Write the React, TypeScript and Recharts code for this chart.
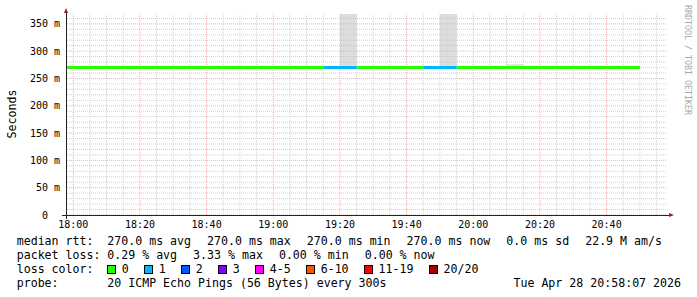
import React from "react";
import { ComposedChart, Line, Area, XAxis, YAxis, CartesianGrid } from "recharts";

// 5 minute steps; the first starts left of the visible window, the last is only an end point
const sampleTimes = [
  "17:55", "18:00", "18:05", "18:10", "18:15", "18:20", "18:25", "18:30", "18:35",
  "18:40", "18:45", "18:50", "18:55", "19:00", "19:05", "19:10", "19:15", "19:20",
  "19:25", "19:30", "19:35", "19:40", "19:45", "19:50", "19:55", "20:00", "20:05",
  "20:10", "20:15", "20:20", "20:25", "20:30", "20:35", "20:40", "20:45", "20:50",
];

// median rtt in ms for each step (one less than sampleTimes)
const medianRtt = [
  270, 270, 270, 270, 270, 270, 270, 270, 270, 270, 270, 270,
  270, 270, 270, 270, 270, 270, 270, 270, 270, 270, 270, 270,
  270, 270, 270, 270, 270, 270, 270, 270, 270, 270, 270,
];

// lost pings out of 20 for each step
const lossCount = [
  0, 0, 0, 0, 0, 0, 0, 0, 0, 0, 0, 0,
  0, 0, 0, 0, 1, 1, 0, 0, 0, 0, 1, 1,
  0, 0, 0, 0, 0, 0, 0, 0, 0, 0, 0,
];

// smoke (spread of the single pings)
const smokeTimes = ["19:20", "19:50", "20:10"];
const smokeLow = [270, 270, 270];
const smokeHigh = [368, 368, 276];

const lossBands = [
  { label: "0", min: 0, max: 0, color: "#26ff00" },
  { label: "1", min: 1, max: 1, color: "#00b8ff" },
  { label: "2", min: 2, max: 2, color: "#0059ff" },
  { label: "3", min: 3, max: 3, color: "#7e00ff" },
  { label: "4-5", min: 4, max: 5, color: "#ff00ff" },
  { label: "6-10", min: 6, max: 10, color: "#ff5500" },
  { label: "11-19", min: 11, max: 19, color: "#ff0000" },
  { label: "20/20", min: 20, max: 20, color: "#a10000" },
];

const xTickLabels = ["18:00", "18:20", "18:40", "19:00", "19:20", "19:40", "20:00", "20:20", "20:40"];
const yTicks = [0, 50, 100, 150, 200, 250, 300, 350];
const viewStart = "17:58:07";
const viewEnd = "20:58:07";
const yMax = 368;

const rttStats = ["270.0 ms avg", "270.0 ms max", "270.0 ms min", "270.0 ms now", "0.0 ms sd", "22.9 M am/s"];
const lossStats = ["0.29 % avg", "3.33 % max", "0.00 % min", "0.00 % now"];
const probeText = "20 ICMP Echo Pings (56 Bytes) every 300s";
const dateText = "Tue Apr 28 20:58:07 2026";

const toMin = (s: string) => {
  const [h, m, sec] = s.split(":").map(Number);
  return h * 60 + m + (sec || 0) / 60;
};
const pad = (n: number) => String(n).padStart(2, "0");
const fmtTime = (v: number) => `${pad(Math.floor(v / 60))}:${pad(Math.round(v % 60))}`;
const bandOf = (n: number) => lossBands.findIndex((b) => n >= b.min && n <= b.max);

const rows = sampleTimes.map((time, i) => {
  const row: Record<string, any> = { t: toMin(time) };
  const hasCur = i < medianRtt.length;
  lossBands.forEach((b, k) => {
    const here = hasCur && bandOf(lossCount[i]) === k;
    const before = i > 0 && bandOf(lossCount[i - 1]) === k;
    row["l" + k] = here ? medianRtt[i] : before ? medianRtt[i - 1] : null;
  });
  const s = smokeTimes.indexOf(time);
  const sp = i > 0 ? smokeTimes.indexOf(sampleTimes[i - 1]) : -1;
  row.smoke = s >= 0 ? [smokeLow[s], smokeHigh[s]] : sp >= 0 ? [smokeLow[sp], smokeHigh[sp]] : null;
  return row;
});

const xStart = toMin(viewStart);
const xEnd = toMin(viewEnd);
const xTicks = xTickLabels.map(toMin);
const xMinor: number[] = [];
for (let v = 1080; v < xEnd; v += 5) if (v % 20 !== 0) xMinor.push(v);
const yMinor: number[] = [];
for (let v = 10; v < yMax; v += 10) if (v % 50 !== 0) yMinor.push(v);

const mono = "'DejaVu Sans Mono', monospace";
const tickStyle = { fontFamily: mono, fontSize: 10, fill: "#000" };

const rowStyle: React.CSSProperties = {
  position: "absolute",
  left: 16.7,
  display: "flex",
  alignItems: "center",
  height: 14,
  whiteSpace: "pre",
};

export default function App() {
  return (
    <div
      style={{
        position: "absolute",
        left: 0,
        top: 0,
        width: 697,
        height: 297,
        background: "#fff",
        fontFamily: mono,
        fontSize: 11.6,
        lineHeight: "14px",
        color: "#000",
      }}
    >
      <ComposedChart width={697} height={297} data={rows} margin={{ top: 14, right: 30, bottom: 52, left: 0 }}>
        <XAxis
          dataKey="t"
          type="number"
          domain={[xStart, xEnd]}
          allowDataOverflow
          ticks={xTicks}
          interval={0}
          tickFormatter={fmtTime}
          tick={tickStyle}
          axisLine={false}
          tickLine={false}
          tickSize={0}
          tickMargin={6}
          height={30}
        />
        <XAxis xAxisId="minor" dataKey="t" type="number" domain={[xStart, xEnd]} allowDataOverflow ticks={xMinor} interval={0} hide />
        <YAxis
          type="number"
          domain={[0, yMax]}
          allowDataOverflow
          ticks={yTicks}
          interval={0}
          tickFormatter={(v: number) => (v === 0 ? "0\u00a0\u00a0" : `${v} m`)}
          tick={tickStyle}
          axisLine={false}
          tickLine={false}
          tickSize={0}
          tickMargin={7}
          width={67}
        />
        <YAxis yAxisId="minor" type="number" domain={[0, yMax]} allowDataOverflow ticks={yMinor} interval={0} hide />
        <CartesianGrid xAxisId="minor" yAxisId="minor" stroke="#d0d0d0" strokeDasharray="1 1" syncWithTicks />
        <CartesianGrid stroke="#ebb3b3" strokeDasharray="1 1" syncWithTicks />
        <Area
          dataKey="smoke"
          type="stepAfter"
          fill="#bbbbbb"
          fillOpacity={0.5}
          stroke="none"
          isAnimationActive={false}
          connectNulls={false}
        />
        {lossBands.map((b, k) => (
          <Line
            key={b.label}
            dataKey={"l" + k}
            type="stepAfter"
            stroke={b.color}
            strokeWidth={3}
            dot={false}
            activeDot={false}
            isAnimationActive={false}
            connectNulls={false}
          />
        ))}
      </ComposedChart>

      {/* axes with arrows */}
      <div style={{ position: "absolute", left: 62, top: 215, width: 608, height: 1, background: "#222" }} />
      <div style={{ position: "absolute", left: 66, top: 12, width: 1, height: 207, background: "#222" }} />
      <div
        style={{
          position: "absolute",
          left: 669,
          top: 213,
          width: 0,
          height: 0,
          borderTop: "2.5px solid transparent",
          borderBottom: "2.5px solid transparent",
          borderLeft: "5px solid #9b1c1c",
        }}
      />
      <div
        style={{
          position: "absolute",
          left: 64,
          top: 8,
          width: 0,
          height: 0,
          borderLeft: "2.5px solid transparent",
          borderRight: "2.5px solid transparent",
          borderBottom: "5px solid #9b1c1c",
        }}
      />

      {/* y axis title */}
      <div
        style={{
          position: "absolute",
          left: 11.5 - 30,
          top: 114 - 7,
          width: 60,
          textAlign: "center",
          transform: "rotate(-90deg)",
        }}
      >
        Seconds
      </div>

      {/* watermark */}
      <div
        style={{
          position: "absolute",
          left: 692,
          top: 5,
          fontSize: 8.3,
          lineHeight: "9px",
          color: "#a8a8a8",
          whiteSpace: "pre",
          transformOrigin: "0 0",
          transform: "rotate(90deg)",
        }}
      >
        RRDTOOL / TOBI OETIKER
      </div>

      {/* legend */}
      <div style={{ ...rowStyle, top: 234, gap: 16 }}>
        <span style={{ width: 90.6 - 16, display: "inline-block" }}>median rtt:</span>
        {rttStats.map((s) => (
          <span key={s}>{s}</span>
        ))}
      </div>
      <div style={{ ...rowStyle, top: 248, gap: 16 }}>
        <span style={{ width: 90.6 - 16, display: "inline-block" }}>packet loss:</span>
        {lossStats.map((s) => (
          <span key={s}>{s}</span>
        ))}
      </div>
      <div style={{ ...rowStyle, top: 262 }}>
        <span style={{ width: 90.6, display: "inline-block" }}>loss color:</span>
        {lossBands.map((b) => (
          <span key={b.label} style={{ display: "flex", alignItems: "center", marginRight: 15.5 }}>
            <span
              style={{
                display: "inline-block",
                width: 9,
                height: 9,
                boxSizing: "border-box",
                border: "1px solid #000",
                background: b.color,
                marginRight: 5.5,
              }}
            />
            <span>{b.label}</span>
          </span>
        ))}
      </div>
      <div style={{ ...rowStyle, top: 276 }}>
        <span style={{ width: 90.6, display: "inline-block" }}>probe:</span>
        <span>{probeText}</span>
      </div>
      <div style={{ position: "absolute", right: 16, top: 276, height: 14, whiteSpace: "pre" }}>{dateText}</div>
    </div>
  );
}
